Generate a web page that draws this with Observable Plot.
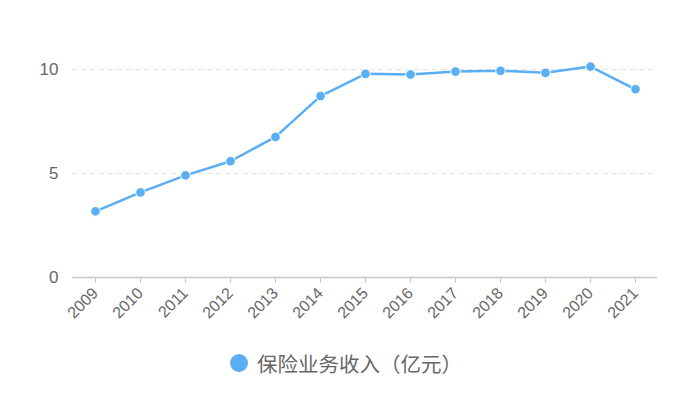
<!DOCTYPE html>
<html>
<head>
<meta charset="utf-8">
<script src="https://cdn.jsdelivr.net/npm/d3@7"></script>
<script src="https://cdn.jsdelivr.net/npm/@observablehq/plot@0.6"></script>
<style>
  html, body { margin: 0; padding: 0; background: #fff; }
  #chart { width: 692px; height: 414px; position: relative; font-family: "Noto Sans CJK SC", sans-serif; }
  #legend { position: absolute; left: 0; top: 349px; width: 692px; height: 28px; display: flex; justify-content: center; align-items: center; font-size: 20.5px; color: #666; }
  #legend .dot { width: 18px; height: 18px; border-radius: 50%; background: #5aaef3; margin-right: 9px; }
</style>
</head>
<body>
<div id="chart"></div>
<script>
const years = ["2009","2010","2011","2012","2013","2014","2015","2016","2017","2018","2019","2020","2021"];
const revenue = [3.18, 4.09, 4.91, 5.59, 6.76, 8.72, 9.79, 9.76, 9.90, 9.94, 9.84, 10.14, 9.05];
const seriesName = "保险业务收入（亿元）";
const yTicks = [0, 5, 10];

const data = years.map((y, i) => ({year: y, value: revenue[i]}));
const color = "#5aaef3";

const plot = Plot.plot({
  width: 692,
  height: 340,
  marginLeft: 72,
  marginRight: 35,
  marginTop: 69,
  marginBottom: 63,
  style: {fontFamily: "'Liberation Sans', Arial, sans-serif", color: "#666", background: "#fff"},
  x: {type: "point", domain: years, padding: 0.5, label: null},
  y: {domain: [0, 10], label: null},
  marks: [
    Plot.ruleY(yTicks.filter(d => d > 0), {stroke: "#e3e3e3", strokeWidth: 1, strokeDasharray: "5,4"}),
    Plot.ruleY([0], {stroke: "#c8c8c8", strokeWidth: 1.5}),
    Plot.axisY({ticks: yTicks, tickSize: 0, tickPadding: 14, label: null}),
    Plot.axisX({tickSize: 6, stroke: "#c8c8c8", tickRotate: -45, tickPadding: 7, label: null}),
    Plot.line(data, {x: "year", y: "value", stroke: color, strokeWidth: 2.5}),
    Plot.dot(data, {x: "year", y: "value", r: 4.8, fill: color, stroke: "#fff", strokeWidth: 1})
  ]
});
plot.style.position = "absolute";
plot.style.left = "0px";
plot.style.top = "0px";
const chart = document.getElementById("chart");
chart.appendChild(plot);

// axis label styling
plot.querySelectorAll("text").forEach(t => {
  const isX = years.includes(t.textContent.trim());
  t.style.fontSize = isX ? "16px" : "17px";
  t.style.fill = "#666";
  t.style.fontFamily = "'Liberation Sans', Arial, sans-serif";
});

const legend = document.createElement("div");
legend.id = "legend";
legend.innerHTML = `<span class="dot"></span><span></span>`;
legend.lastChild.textContent = seriesName;
chart.appendChild(legend);
</script>
</body>
</html>
